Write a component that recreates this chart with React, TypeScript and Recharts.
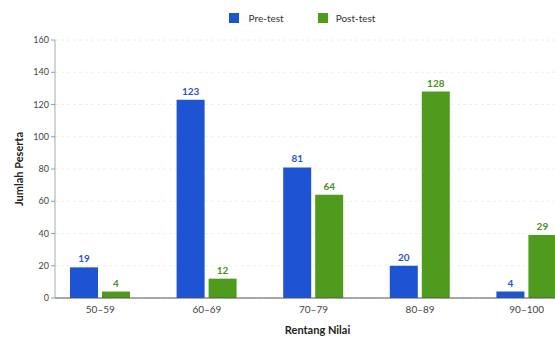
import React from "react";
import { BarChart, Bar, XAxis, YAxis, CartesianGrid, Legend, LabelList } from "recharts";

const categories = ["50–59", "60–69", "70–79", "80–89", "90–100"];
const preTest = [19, 123, 81, 20, 4];
const postTest = [4, 12, 64, 128, 39];
const preLabels = ["19", "123", "81", "20", "4"];
const postLabels = ["4", "12", "64", "128", "29"];
const yTicks = [0, 20, 40, 60, 80, 100, 120, 140, 160];

const data = categories.map((c, i) => ({
  range: c,
  pre: preTest[i],
  post: postTest[i],
  preLabel: preLabels[i],
  postLabel: postLabels[i],
}));

const BLUE = "#1c54d4";
const GREEN = "#4f9b1e";
const FONT = "Lato, 'Open Sans', Arial, sans-serif";

const LegendContent = () => (
  <div style={{ display: "flex", justifyContent: "center", alignItems: "center", fontFamily: FONT, fontSize: 10, color: "#333" }}>
    <span style={{ display: "inline-block", width: 10, height: 10, background: BLUE, marginRight: 10 }} />
    <span style={{ marginRight: 34 }}>Pre-test</span>
    <span style={{ display: "inline-block", width: 10, height: 10, background: GREEN, marginRight: 8 }} />
    <span>Post-test</span>
  </div>
);

const YLabel = (props: any) => {
  const vb = props.viewBox || {};
  const cy = vb.y + vb.height / 2;
  return (
    <text x={18} y={cy} transform={`rotate(-90, 18, ${cy})`} textAnchor="middle" dominantBaseline="central"
      style={{ fontFamily: FONT, fontSize: 11, fontWeight: 700, fill: "#222" }}>
      Jumlah Peserta
    </text>
  );
};

export default function App() {
  return (
    <div style={{ position: "absolute", left: 0, top: 0, width: 555, height: 345, overflow: "hidden", background: "#fff" }}>
      <BarChart width={600} height={345} data={data} margin={{ top: 28, right: 20, bottom: 9, left: 0 }} barSize={28} barGap={4}>
        <CartesianGrid vertical={false} stroke="#eeeeee" strokeDasharray="3 3" />
        <Legend verticalAlign="top" content={<LegendContent />} wrapperStyle={{ top: 12, left: 12 }} />
        <XAxis
          dataKey="range"
          height={38}
          padding={{ left: -8, right: 0 }}
          tick={{ fontSize: 10, fill: "#444", fontFamily: FONT }}
          tickLine={false}
          axisLine={{ stroke: "#555" }}
          label={{ value: "Rentang Nilai", position: "insideBottom", offset: 2, style: { fontSize: 11, fontWeight: 700, fill: "#222", fontFamily: FONT } }}
        />
        <YAxis
          width={55}
          domain={[0, 160]}
          ticks={yTicks}
          tick={{ fontSize: 9, fill: "#444", fontFamily: FONT }}
          tickSize={4}
          tickLine={{ stroke: "#999" }}
          axisLine={{ stroke: "#aaa" }}
          label={<YLabel />}
        />
        <Bar dataKey="pre" name="Pre-test" fill={BLUE} isAnimationActive={false}>
          <LabelList dataKey="preLabel" position="top" style={{ fontSize: 10, fontWeight: 700, fill: "#2a55c8", fontFamily: FONT }} />
        </Bar>
        <Bar dataKey="post" name="Post-test" fill={GREEN} isAnimationActive={false}>
          <LabelList dataKey="postLabel" position="top" style={{ fontSize: 10, fontWeight: 700, fill: "#4a8f22", fontFamily: FONT }} />
        </Bar>
      </BarChart>
    </div>
  );
}
